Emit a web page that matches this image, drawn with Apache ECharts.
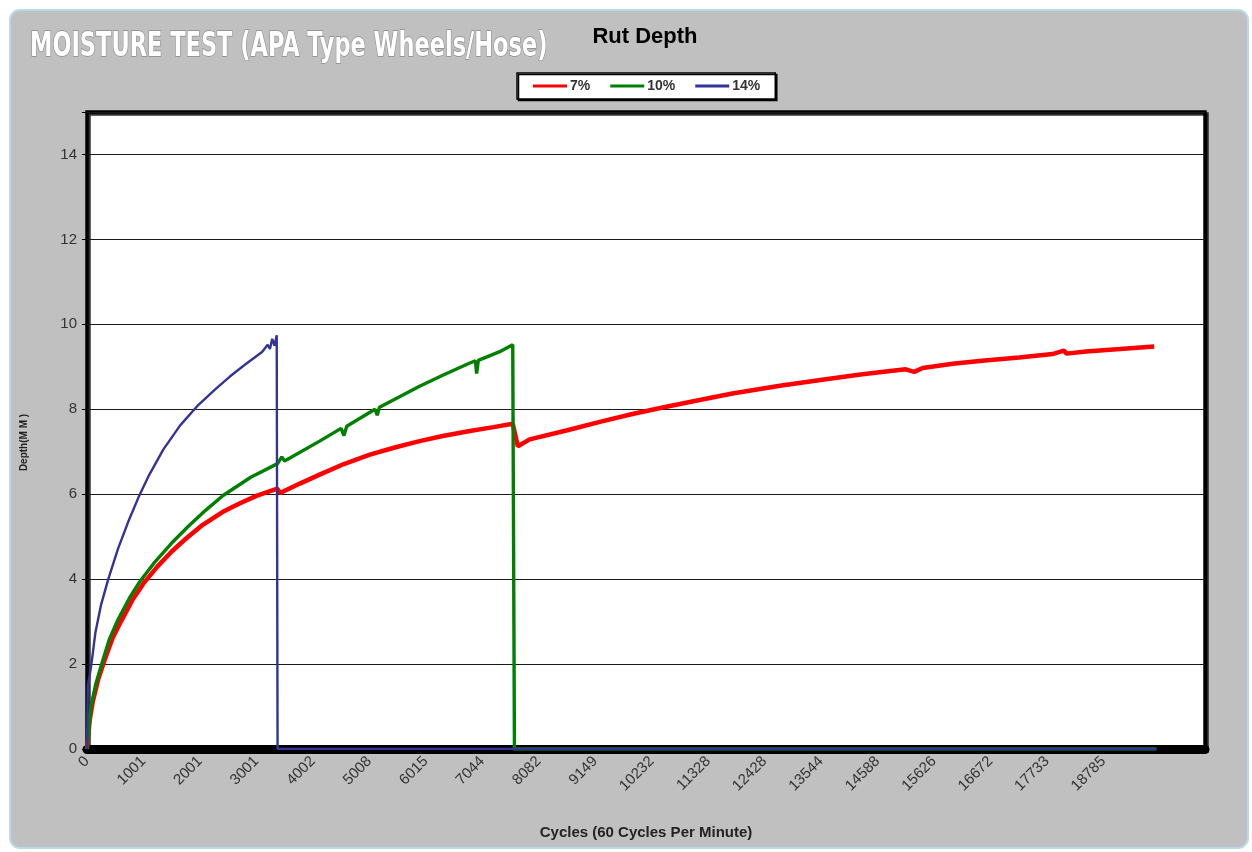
<!DOCTYPE html>
<html>
<head>
<meta charset="utf-8">
<script src="https://cdn.jsdelivr.net/npm/echarts@6/dist/echarts.min.js"></script>
<style>
html,body{margin:0;padding:0;background:#fff;}
#main{width:1252px;height:852px;}
</style>
</head>
<body>
<div id="main"></div>
<script>
// tick labels on the cycles axis (one per labelled category step)
var cycleLabels = ['0','1001','2001','3001','4002','5008','6015','7044','8082','9149',
    '10232','11328','12428','13544','14588','15626','16672','17733','18785'];

// [position in label steps, rut depth mm]
var rut7 = [
    [0,0],[0.05,0.7],[0.1,1.1],[0.2,1.65],[0.3,2.05],[0.45,2.6],[0.6,3.0],[0.8,3.5],
    [1.0,3.9],[1.25,4.3],[1.5,4.65],[1.75,4.95],[2.05,5.28],[2.4,5.58],[2.7,5.78],
    [3.0,5.96],[3.37,6.13],[3.42,6.03],[3.77,6.25],[4.12,6.46],[4.55,6.71],[5.01,6.93],
    [5.45,7.1],[5.89,7.25],[6.3,7.37],[6.78,7.49],[7.2,7.58],[7.54,7.66],[7.63,7.13],
    [7.84,7.29],[8.49,7.5],[9.1,7.71],[9.66,7.89],[10.26,8.06],[10.85,8.22],[11.43,8.37],
    [12.3,8.56],[13.15,8.72],[13.7,8.82],[14.15,8.89],[14.5,8.94],[14.65,8.88],[14.8,8.97],
    [15.33,9.07],[15.9,9.15],[16.51,9.22],[17.1,9.3],[17.3,9.38],[17.35,9.31],[17.69,9.36],
    [18.3,9.42],[18.9,9.48]
];
var rut10 = [
    [0,0],[0.07,1.0],[0.15,1.5],[0.26,2.0],[0.4,2.6],[0.55,3.05],[0.75,3.55],[0.94,3.95],
    [1.2,4.4],[1.5,4.85],[1.8,5.25],[2.1,5.62],[2.41,5.97],[2.9,6.4],[3.375,6.72],
    [3.45,6.88],[3.5,6.78],[4.12,7.25],[4.5,7.55],[4.55,7.38],[4.6,7.6],[5.1,8.0],
    [5.14,7.86],[5.18,8.05],[5.89,8.54],[6.3,8.8],[6.78,9.09],[6.88,9.14],[6.9,8.84],
    [6.93,9.15],[7.3,9.35],[7.54,9.52],[7.57,0],[18.94,0]
];
var rut14 = [
    [0,0],[0.015,1.5],[0.05,1.75],[0.083,2.05],[0.15,2.75],[0.25,3.4],[0.377,4.0],[0.55,4.72],
    [0.73,5.35],[0.91,5.92],[1.1,6.45],[1.35,7.05],[1.65,7.62],[1.97,8.1],[2.27,8.47],
    [2.53,8.77],[2.75,9.0],[2.92,9.17],[3.1,9.35],[3.2,9.52],[3.24,9.42],[3.28,9.66],
    [3.32,9.5],[3.36,9.74],[3.375,0],[18.94,0]
];

var myChart = echarts.init(document.getElementById('main'));
var option = {
    animation: false,
    backgroundColor: '#fff',
    title: {
        text: 'Rut Depth',
        left: 640,
        top: 21,
        textAlign: 'center',
        textStyle: { fontFamily: 'Liberation Sans', fontWeight: 'bold', fontSize: 22, color: '#000' }
    },
    graphic: [
        {
            type: 'rect', z: -10, silent: true,
            shape: { x: 10, y: 10, width: 1238, height: 838, r: 10 },
            style: { fill: '#c0c0c0', stroke: '#b9dbe8', lineWidth: 2 }
        },
        {
            type: 'text', z: 10, x: 30, y: 30, scaleY: 1.35,
            style: {
                text: 'MOISTURE TEST (APA Type Wheels/Hose)',
                font: 'bold 25px "Liberation Sans Narrow", "DejaVu Sans Condensed", sans-serif',
                fill: '#ffffff', stroke: '#8a8a8a', lineWidth: 1,
                textShadowColor: '#555', textShadowOffsetX: 2, textShadowOffsetY: 2
            }
        }
    ],
    legend: {
        left: 517, top: 73,
        padding: [6, 15, 6, 16],
        backgroundColor: '#fff',
        borderColor: '#000', borderWidth: 1.5,
        shadowColor: '#000', shadowOffsetX: 1.5, shadowOffsetY: 1.5,
        icon: 'rect', itemWidth: 34, itemHeight: 3, itemGap: 20,
        textStyle: { fontFamily: 'Liberation Sans', fontSize: 14, fontWeight: 'bold', color: '#333', padding: [0, 0, 0, -2] },
        data: ['7%', '10%', '14%']
    },
    grid: {
        left: 87, right: 47, top: 112, bottom: 103,
        show: true, backgroundColor: '#fff',
        borderColor: '#000', borderWidth: 3.5,
        shadowColor: 'rgba(0,0,0,0.8)', shadowOffsetX: 2, shadowOffsetY: 2
    },
    xAxis: {
        type: 'value', min: 0, max: 19.8, interval: 1,
        name: 'Cycles (60 Cycles Per Minute)',
        nameLocation: 'middle', nameGap: 76,
        nameTextStyle: { fontFamily: 'Liberation Sans', fontWeight: 'bold', fontSize: 15, color: '#222' },
        axisLine: { onZero: false, lineStyle: { color: '#000', width: 9 } },
        axisTick: { show: false },
        splitLine: { show: false },
        axisLabel: {
            rotate: 45, margin: 10,
            fontFamily: 'Liberation Sans', fontSize: 15, color: '#333',
            formatter: function (v) {
                var i = Math.round(v);
                if (Math.abs(v - i) > 1e-6) return '';
                return cycleLabels[i] || '';
            }
        }
    },
    yAxis: {
        type: 'value', min: 0, max: 15, interval: 2,
        name: 'Depth(M M )',
        nameLocation: 'middle', nameGap: 58,
        nameTextStyle: { fontFamily: 'Liberation Sans', fontWeight: 'bold', fontSize: 10, color: '#222', padding: [0, 24, 0, 0] },
        axisLine: { show: false },
        axisTick: { show: true, length: 5, lineStyle: { color: '#000' } },
        splitLine: { lineStyle: { color: '#1a1a1a', width: 1.2 } },
        axisLabel: {
            margin: 10,
            fontFamily: 'Liberation Sans', fontSize: 15, color: '#333',
            formatter: function (v) { return v % 2 === 0 ? String(v) : ''; }
        }
    },
    series: [
        { name: '7%', type: 'line', data: rut7, showSymbol: false, color: '#ff0000',
          lineStyle: { width: 4.5, color: '#ff0000' } },
        { name: '10%', type: 'line', data: rut10, showSymbol: false, color: '#008000',
          lineStyle: { width: 3.4, color: '#008000' } },
        { name: '14%', type: 'line', data: rut14, showSymbol: false, color: '#333399',
          lineStyle: { width: 2.4, color: '#333399' } }
    ]
};
myChart.setOption(option);
</script>
</body>
</html>
